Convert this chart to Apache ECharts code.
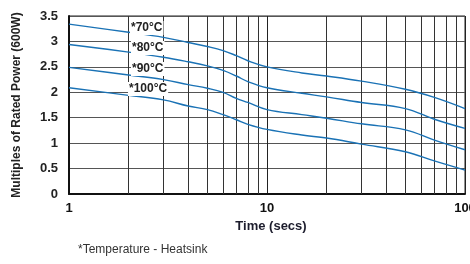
<!DOCTYPE html>
<html>
<head>
<meta charset="utf-8">
<script src="https://cdn.jsdelivr.net/npm/echarts@6/dist/echarts.min.js"></script>
<style>
html, body { margin: 0; padding: 0; background: #fff; }
#chart { width: 470px; height: 264px; }
</style>
</head>
<body>
<div id="chart"></div>
<script>
var times = [1, 2, 3, 4, 5, 6, 7, 8, 10, 15, 20, 30, 50, 70, 100];
var temp70 = [3.34, 3.18, 3.08, 2.98, 2.90, 2.82, 2.72, 2.62, 2.50, 2.38, 2.32, 2.22, 2.06, 1.90, 1.68];
var temp80 = [2.94, 2.79, 2.69, 2.60, 2.52, 2.43, 2.32, 2.21, 2.09, 1.98, 1.91, 1.80, 1.68, 1.47, 1.29];
var temp90 = [2.49, 2.34, 2.25, 2.15, 2.08, 2.00, 1.88, 1.80, 1.66, 1.56, 1.49, 1.38, 1.26, 1.06, 0.87];
var temp100 = [2.09, 1.94, 1.85, 1.73, 1.66, 1.56, 1.46, 1.37, 1.27, 1.16, 1.10, 0.98, 0.83, 0.65, 0.47];
var seriesNames = ['*70°C', '*80°C', '*90°C', '*100°C'];
var minorTimes = [2, 3, 4, 5, 6, 7, 8, 9, 20, 30, 40, 50, 60, 70, 80, 90];

var font = '"Liberation Sans Narrow", "Liberation Sans", sans-serif';
var blue = '#1a72b5';

function pairs(ys) {
    return times.map(function (t, i) { return [t, ys[i]]; });
}

var myChart = echarts.init(document.getElementById('chart'));

var lines = [temp70, temp80, temp90, temp100].map(function (ys, i) {
    return {
        name: seriesNames[i],
        type: 'line',
        smooth: 0.4,
        symbol: 'none',
        z: 5,
        lineStyle: { color: blue, width: 1.4 },
        data: pairs(ys)
    };
});

// vertical log grid lines
lines.push({
    type: 'line',
    data: [],
    silent: true,
    z: 1,
    markLine: {
        silent: true,
        symbol: 'none',
        label: { show: false },
        animation: false,
        lineStyle: { color: '#333', width: 1, type: 'solid' },
        data: minorTimes.map(function (t) { return { xAxis: t }; })
    }
});

option = {
    animation: false,
    grid: {
        left: 69, right: 5, top: 16, bottom: 70,
        outerBoundsMode: 'none',
        containLabel: false,
        show: true, borderColor: '#222', borderWidth: 1
    },
    xAxis: {
        type: 'log',
        logBase: 10,
        min: 1,
        max: 100,
        name: 'Time (secs)',
        nameLocation: 'middle',
        nameGap: 24,
        nameTextStyle: { fontFamily: font, fontWeight: 'bold', fontSize: 13, color: '#1c1c2c', padding: [0, 0, 0, 8] },
        axisLine: { lineStyle: { color: '#111', width: 2 } },
        axisTick: { show: false },
        axisLabel: { fontFamily: font, fontWeight: 'bold', fontSize: 13, color: '#111', margin: 8 },
        splitLine: { show: true, lineStyle: { color: '#222', width: 1 } }
    },
    yAxis: {
        type: 'value',
        min: 0,
        max: 3.5,
        interval: 0.5,
        name: 'Multiples of Rated Power (600W)',
        nameLocation: 'middle',
        nameGap: 46,
        nameTextStyle: { fontFamily: font, fontWeight: 'bold', fontSize: 12, color: '#222' },
        axisLine: { show: true, lineStyle: { color: '#111', width: 2 } },
        axisTick: { show: false },
        axisLabel: {
            fontFamily: font, fontWeight: 'bold', fontSize: 13, color: '#222', margin: 11,
            formatter: function (v) { return String(v); }
        },
        splitLine: { show: true, lineStyle: { color: '#555', width: 1 } }
    },
    series: lines,
    graphic: [
        { type: 'text', left: 130, top: 21, z: 10, style: { text: seriesNames[0], font: 'bold 12px ' + font, fill: '#222', backgroundColor: '#fff', padding: [1, 1] } },
        { type: 'text', left: 131, top: 41, z: 10, style: { text: seriesNames[1], font: 'bold 12px ' + font, fill: '#222', backgroundColor: '#fff', padding: [1, 1] } },
        { type: 'text', left: 131, top: 62, z: 10, style: { text: seriesNames[2], font: 'bold 12px ' + font, fill: '#222', backgroundColor: '#fff', padding: [1, 1] } },
        { type: 'text', left: 128, top: 82, z: 10, style: { text: seriesNames[3], font: 'bold 12px ' + font, fill: '#222', backgroundColor: '#fff', padding: [1, 1] } },
        { type: 'text', left: 78, top: 244, style: { text: '*Temperature - Heatsink', font: '12px ' + font, fill: '#333' } }
    ]
};
myChart.setOption(option);
</script>
</body>
</html>
